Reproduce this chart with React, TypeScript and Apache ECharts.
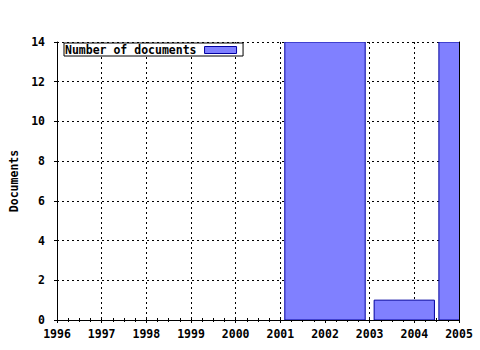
import React, { useEffect, useRef } from "react";
import * as echarts from "echarts";

// Bars: [start year, end year, documents]
const barStarts = [2001.1, 2003.1, 2004.55];
const barEnds = [2002.9, 2004.45, 2005.4];
const barValues = [14, 1, 14];
const seriesName = "Number of documents";
const yAxisName = "Documents";

const FONT = "'DejaVu Sans Mono', monospace";

export default function App() {
  const ref = useRef<HTMLDivElement>(null);
  useEffect(() => {
    if (!ref.current) return;
    const chart = echarts.init(ref.current, null, { renderer: "svg" });
    const data = barStarts.map((s, i) => [s, barEnds[i], barValues[i]]);
    const labelStyle = {
      color: "#000",
      fontFamily: FONT,
      fontWeight: "bold" as const,
      fontSize: 11.5,
    };
    const gridLine = {
      show: true,
      lineStyle: { color: "#000", width: 1, type: [2, 3] as any },
    };
    chart.setOption({
      animation: false,
      backgroundColor: "#fff",
      grid: { left: 57, right: 21, top: 42, bottom: 30, containLabel: false, outerBoundsMode: "none" },
      legend: {
        left: 64,
        top: 43,
        align: "right",
        itemWidth: 32,
        itemHeight: 7,
        borderColor: "#000",
        borderWidth: 1,
        backgroundColor: "#fff",
        padding: [1, 6, 0, 1],
        textStyle: { ...labelStyle, padding: [0, 3, 0, 0] },
        data: [
          {
            name: seriesName,
            icon: "rect",
            itemStyle: { color: "#8080ff", borderColor: "#0000a0", borderWidth: 1 },
          },
        ],
      },
      xAxis: [
        {
          type: "value",
          min: 1996,
          max: 2005,
          interval: 1,
          axisLine: { show: true, lineStyle: { color: "#000", width: 1 } },
          axisTick: { show: true, length: 3, lineStyle: { color: "#000" } },
          minorTick: { show: true, splitNumber: 4, length: 2, lineStyle: { color: "#000" } },
          axisLabel: { ...labelStyle, margin: 8, formatter: (v: number) => String(v) },
          splitLine: gridLine,
        },
        {
          type: "value",
          position: "top",
          min: 1996,
          max: 2005,
          interval: 1,
          axisLine: { show: true, lineStyle: { color: "#000", width: 1 } },
          axisTick: { show: true, length: 3, lineStyle: { color: "#000" } },
          minorTick: { show: true, splitNumber: 4, length: 2, lineStyle: { color: "#000" } },
          axisLabel: { show: false },
          splitLine: { show: false },
        },
      ],
      yAxis: [
        {
          type: "value",
          min: 0,
          max: 14,
          interval: 2,
          name: yAxisName,
          nameLocation: "middle",
          nameRotate: 90,
          nameGap: 37,
          nameTextStyle: labelStyle,
          axisLine: { show: true, lineStyle: { color: "#000", width: 1 } },
          axisTick: { show: true, length: 3, lineStyle: { color: "#000" } },
          axisLabel: { ...labelStyle, margin: 12 },
          splitLine: gridLine,
        },
        {
          type: "value",
          position: "right",
          min: 0,
          max: 14,
          interval: 2,
          axisLine: { show: true, lineStyle: { color: "#000", width: 1 } },
          axisTick: { show: false },
          axisLabel: { show: false },
          splitLine: { show: false },
        },
      ],
      series: [
        {
          name: seriesName,
          type: "custom",
          clip: true,
          xAxisIndex: 0,
          yAxisIndex: 0,
          encode: { x: [0, 1], y: 2 },
          data,
          renderItem: (params: any, api: any) => {
            const p0 = api.coord([api.value(0), api.value(2)]);
            const p1 = api.coord([api.value(1), 0]);
            return {
              type: "rect",
              shape: { x: p0[0], y: p0[1], width: p1[0] - p0[0], height: p1[1] - p0[1] },
              style: { fill: "#8080ff", stroke: "#0000a0", lineWidth: 1 },
            };
          },
        },
      ],
    });
    return () => chart.dispose();
  }, []);
  return (
    <div
      ref={ref}
      style={{ position: "fixed", left: 0, top: 0, width: 480, height: 350 }}
    />
  );
}
